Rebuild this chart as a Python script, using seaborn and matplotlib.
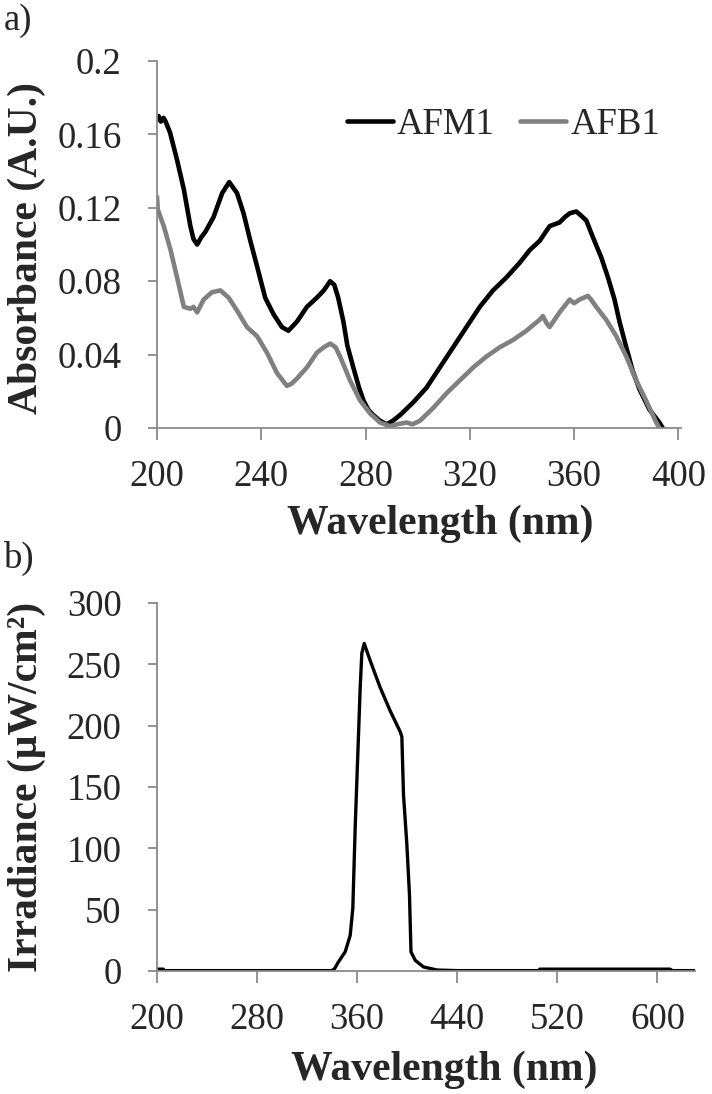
import numpy as np
import pandas as pd
import matplotlib
matplotlib.use("Agg")
import matplotlib.pyplot as plt
import seaborn as sns

# ---------------- data ----------------
afm1_wl = [200.0, 200.6, 201.5, 202.5, 203.3, 205.0, 207.7, 210.3, 212.8, 214.0, 215.4, 217.0,
           218.6, 221.7, 225.0, 227.7, 230.7, 233.2, 235.8, 238.4, 241.5, 244.7, 247.9, 250.4,
           253.7, 257.5, 261.3, 264.0, 266.4, 268.0, 269.5, 271.5, 273.0, 275.3, 277.5, 279.2,
           281.0, 283.0, 285.5, 288.1, 290.5, 293.2, 298.3, 303.4, 308.5, 313.6, 318.7, 323.8,
           328.9, 334.0, 339.1, 343.0, 346.8, 350.6, 354.4, 356.5, 358.3, 360.8, 362.5, 364.7,
           367.2, 370.4, 373.0, 375.5, 377.4, 380.0, 382.5, 385.1, 388.9, 392.7, 394.0]
afm1_abs = [0.168, 0.170, 0.167, 0.169, 0.167, 0.161, 0.146, 0.130, 0.110, 0.103, 0.100, 0.104,
            0.107, 0.115, 0.128, 0.134, 0.128, 0.117, 0.102, 0.088, 0.071, 0.062, 0.055, 0.053,
            0.058, 0.066, 0.071, 0.075, 0.080, 0.078, 0.071, 0.058, 0.045, 0.033, 0.022, 0.015,
            0.010, 0.007, 0.004, 0.002, 0.004, 0.007, 0.014, 0.022, 0.033, 0.044, 0.055, 0.066,
            0.075, 0.082, 0.090, 0.097, 0.102, 0.110, 0.112, 0.115, 0.117, 0.118, 0.116, 0.113,
            0.104, 0.093, 0.082, 0.070, 0.058, 0.044, 0.031, 0.021, 0.010, 0.003, 0.000]

afb1_wl = [200.0, 200.3, 202.6, 205.2, 207.7, 210.3, 212.8, 214.0, 215.4, 217.9, 221.1, 224.3,
           227.5, 230.7, 234.5, 238.4, 242.2, 246.0, 249.8, 251.5, 253.7, 257.5, 261.3, 264.0,
           266.4, 268.5, 270.2, 272.0, 274.0, 277.9, 281.7, 285.5, 289.4, 292.0, 295.8, 298.0,
           300.9, 306.0, 311.1, 316.2, 321.3, 326.4, 331.5, 336.6, 341.7, 344.2, 346.8, 348.0,
           349.5, 350.6, 352.5, 354.4, 358.3, 360.0, 362.1, 365.3, 366.5, 368.5, 372.3, 376.2,
           380.0, 383.8, 387.6, 391.5, 392.7]
afb1_abs = [0.126, 0.119, 0.110, 0.097, 0.082, 0.066, 0.065, 0.066, 0.063, 0.070, 0.074, 0.075,
            0.071, 0.064, 0.055, 0.050, 0.041, 0.030, 0.023, 0.024, 0.027, 0.033, 0.041, 0.044,
            0.046, 0.044, 0.039, 0.033, 0.026, 0.015, 0.008, 0.003, 0.001, 0.002, 0.003, 0.002,
            0.004, 0.011, 0.019, 0.026, 0.033, 0.039, 0.044, 0.048, 0.053, 0.056, 0.059, 0.061,
            0.057, 0.055, 0.059, 0.063, 0.070, 0.068, 0.070, 0.072, 0.070, 0.066, 0.059, 0.050,
            0.039, 0.026, 0.015, 0.003, 0.000]

lamp_wl = [200, 205, 206, 339.7, 342, 345, 350.4, 354.4, 356.5, 358.4, 360.3, 362.4, 363.7,
           365.6, 370.4, 378.4, 386.4, 394.4, 395.7, 397, 399.7, 401.8, 403, 406.4, 413, 423.8,
           440, 505, 506, 610, 612, 632]
lamp_irr = [1.5, 1.5, 0.3, 0.3, 2, 7.4, 15.6, 29, 51, 117, 171, 231, 259,
            267, 253, 231, 212, 195, 191, 144, 103, 62, 15.6, 8.7, 3.3, 0.8,
            0.3, 0.3, 1.5, 1.5, 0.3, 0.3]

abs_ticks = [0, 0.04, 0.08, 0.12, 0.16, 0.2]
abs_ticklabels = ["0", "0.04", "0.08", "0.12", "0.16", "0.2"]
wl_ticks_a = [200, 240, 280, 320, 360, 400]
irr_ticks = [0, 50, 100, 150, 200, 250, 300]
wl_ticks_b = [200, 280, 360, 440, 520, 600]

# ---------------- style ----------------
sns.set_theme(style="white")
plt.rcParams["font.family"] = ["Liberation Serif", "DejaVu Serif"]
plt.rcParams["mathtext.fontset"] = "stix"

SPINE = "#8a8a8a"
TICKFS = 26.5
LABFS = 30

fig = plt.figure(figsize=(7.12, 10.94), dpi=100)
ax1 = fig.add_axes([157 / 712, 1 - 428 / 1094, (681 - 157) / 712, (428 - 61) / 1094])
ax2 = fig.add_axes([157 / 712, 1 - 971 / 1094, (695 - 157) / 712, (971 - 603) / 1094])

df_a = pd.concat([
    pd.DataFrame({"wl": afm1_wl, "val": afm1_abs, "series": "AFM1"}),
    pd.DataFrame({"wl": afb1_wl, "val": afb1_abs, "series": "AFB1"}),
])
sns.lineplot(data=df_a, x="wl", y="val", hue="series", sort=False,
             palette={"AFM1": "#000000", "AFB1": "#808080"}, linewidth=3.3, ax=ax1,
             estimator=None)

df_b = pd.DataFrame({"wl": lamp_wl, "val": lamp_irr})
sns.lineplot(data=df_b, x="wl", y="val", color="black", linewidth=2.4, ax=ax2,
             estimator=None, sort=False)

for ax in (ax1, ax2):
    for s in ("top", "right"):
        ax.spines[s].set_visible(False)
    for s in ("left", "bottom"):
        ax.spines[s].set_color(SPINE)
        ax.spines[s].set_linewidth(1.3)
    ax.tick_params(axis="x", which="major", direction="out", length=8.5, width=1.3,
                   color=SPINE, labelsize=TICKFS, pad=14, bottom=True)
    ax.tick_params(axis="y", which="major", direction="out", length=6.5, width=1.3,
                   color=SPINE, labelsize=TICKFS, pad=19, left=True)
    ax.grid(False)

ax1.set_xlim(200, 401)
ax1.set_ylim(0, 0.2)
ax1.set_xticks(wl_ticks_a)
ax1.set_yticks(abs_ticks)
ax1.set_yticklabels(abs_ticklabels)

ax2.set_xlim(200, 630)
ax2.set_ylim(0, 300)
ax2.set_xticks(wl_ticks_b)
ax2.set_yticks(irr_ticks)

ax1.set_xlabel("Wavelength (nm)", fontsize=LABFS, fontweight="bold")
ax1.set_ylabel("Absorbance (A.U.)", fontsize=LABFS, fontweight="bold")
ax2.set_xlabel("Wavelength (nm)", fontsize=LABFS, fontweight="bold")
ax2.set_ylabel("Irradiance (μW/cm²)", fontsize=LABFS, fontweight="bold")

ax1.xaxis.set_label_coords(440 / 712, 1 - 505 / 1094, transform=fig.transFigure)
ax2.xaxis.set_label_coords(444 / 712, 1 - 1051 / 1094, transform=fig.transFigure)
ax1.yaxis.set_label_coords(46 / 712, 1 - 248 / 1094, transform=fig.transFigure)
ax2.yaxis.set_label_coords(46 / 712, 1 - 787 / 1094, transform=fig.transFigure)

leg = ax1.legend(loc="center left", bbox_to_anchor=(347 / 712, 1 - 125 / 1094),
                 bbox_transform=fig.transFigure, ncol=2, frameon=False,
                 fontsize=TICKFS, handlelength=1.25, handletextpad=0.1,
                 columnspacing=0.7, borderpad=0, borderaxespad=0, title=None)
for line in leg.get_lines():
    line.set_linewidth(3.3)

fig.text(4 / 712, 1 - 21 / 1094, "a)", fontsize=TICKFS, va="center", ha="left")
fig.text(4 / 712, 1 - 558 / 1094, "b)", fontsize=TICKFS, va="center", ha="left")

fig.savefig("out.png", dpi=100)
